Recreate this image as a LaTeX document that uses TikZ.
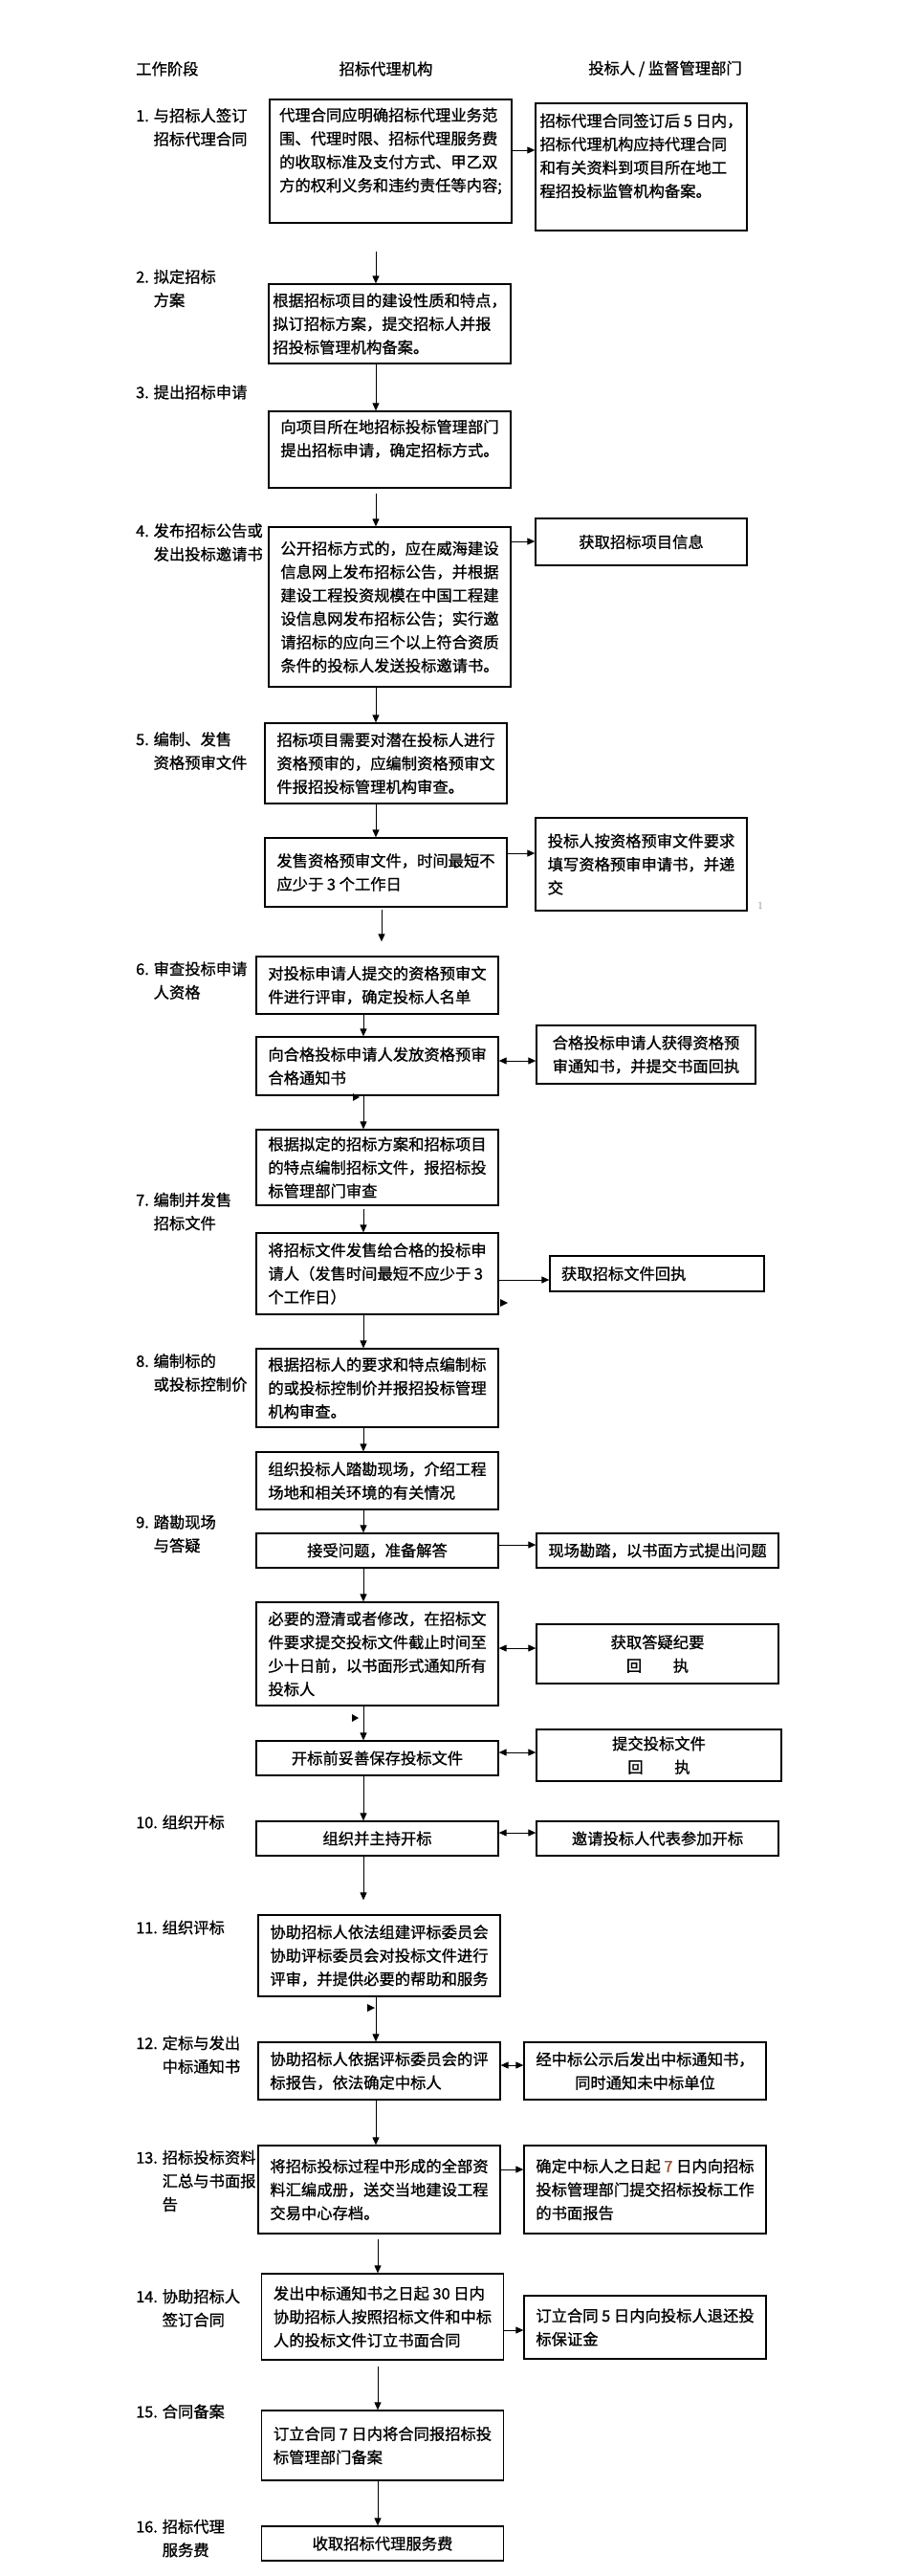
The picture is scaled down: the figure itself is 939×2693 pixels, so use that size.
\documentclass[tikz,border=0pt]{standalone}
\usepackage{fontspec}
\newfontfamily\cjk{Noto Sans CJK SC}[UprightFeatures={FakeBold=1.0}]
\usetikzlibrary{arrows.meta}
\definecolor{seven}{HTML}{9C4A1E}
\newcommand{\bxfont}{\cjk\fontsize{16.3pt}{24.5pt}\selectfont}

\begin{document}
\begin{tikzpicture}[x=1pt, y=-1pt,
  hd/.style={font=\bxfont, inner sep=0pt},
  st/.style={anchor=west, align=left, font=\bxfont, inner sep=0pt},
  ag/.style={rectangle, draw, line width=1.3pt, minimum width=253pt, align=left, font=\bxfont, inner xsep=3pt, inner ysep=4pt},
  pt/.style={rectangle, draw, line width=1.3pt, align=left, font=\bxfont, inner xsep=3pt, inner ysep=4pt},
  fl/.style={-{Triangle[length=8pt,width=7pt]}, line width=0.9pt},
  bi/.style={{Triangle[length=8pt,width=7pt]}-{Triangle[length=8pt,width=7pt]}, line width=0.9pt}
]
  \useasboundingbox (0,0) rectangle (939,2693);

  % column heads
  \node[hd, anchor=west] (h1) at (142,72) {工作阶段};
  \node[hd] (h2) at (403.5,72) {招标代理机构};
  \node[hd] (h3) at (695.5,72) {投标人 / 监督管理部门};

  % stages
  \node[st] (s1) at (142,133) {1. 与招标人签订\\\phantom{1. }招标代理合同};
  \node[st] (s2) at (142,301.5) {2. 拟定招标\\\phantom{2. }方案};
  \node[st] (s3) at (142,410) {3. 提出招标申请};
  \node[st] (s4) at (142,567) {4. 发布招标公告或\\\phantom{4. }发出投标邀请书};
  \node[st] (s5) at (142,785) {5. 编制、发售\\\phantom{5. }资格预审文件};
  \node[st] (s6) at (142,1025) {6. 审查投标申请\\\phantom{6. }人资格};
  \node[st] (s7) at (142,1266.5) {7. 编制并发售\\\phantom{7. }招标文件};
  \node[st] (s8) at (142,1435) {8. 编制标的\\\phantom{8. }或投标控制价};
  \node[st] (s9) at (142,1603.5) {9. 踏勘现场\\\phantom{9. }与答疑};
  \node[st] (s10) at (142,1905) {10. 组织开标};
  \node[st] (s11) at (142,2015) {11. 组织评标};
  \node[st] (s12) at (142,2148) {12. 定标与发出\\\phantom{12. }中标通知书};
  \node[st] (s13) at (142,2280) {13. 招标投标资料\\\phantom{13. }汇总与书面报\\\phantom{13. }告};
  \node[st] (s14) at (142,2413) {14. 协助招标人\\\phantom{14. }签订合同};
  \node[st] (s15) at (142,2521) {15. 合同备案};
  \node[st] (s16) at (142,2653.5) {16. 招标代理\\\phantom{16. }服务费};

  % agency column
  \node[ag, minimum height=129pt] (ag1) at (408.5,168.5) {代理合同应明确招标代理业务范\\围、代理时限、招标代理服务费\\的收取标准及支付方式、甲乙双\\方的权利义务和违约责任等内容;\\~};
  \node[ag, minimum height=83pt] (ag2) at (407.5,338.5) {根据招标项目的建设性质和特点，\\拟订招标方案，提交招标人并报\\招投标管理机构备案。};
  \node[ag, minimum height=80pt] (ag3) at (407.5,470) {向项目所在地招标投标管理部门\\提出招标申请，确定招标方式。\\~};
  \node[ag, minimum height=167pt] (ag4) at (407.5,634.5) {公开招标方式的，应在威海建设\\信息网上发布招标公告，并根据\\建设工程投资规模在中国工程建\\设信息网发布招标公告；实行邀\\请招标的应向三个以上符合资质\\条件的投标人发送投标邀请书。};
  \node[ag, minimum height=84pt] (ag5a) at (403.5,798) {招标项目需要对潜在投标人进行\\资格预审的，应编制资格预审文\\件报招投标管理机构审查。};
  \node[ag, minimum height=72pt] (ag5b) at (403.5,912) {发售资格预审文件，时间最短不\\应少于 3 个工作日};
  \node[ag, minimum height=60pt] (ag6a) at (394.5,1030) {对投标申请人提交的资格预审文\\件进行评审，确定投标人名单};
  \node[ag, minimum height=61pt] (ag6b) at (394.5,1114.5) {向合格投标申请人发放资格预审\\合格通知书};
  \node[ag, minimum height=79pt] (ag7a) at (394.5,1220.5) {根据拟定的招标方案和招标项目\\的特点编制招标文件，报招标投\\标管理部门审查};
  \node[ag, minimum height=85pt] (ag7b) at (394.5,1331.5) {将招标文件发售给合格的投标申\\请人（发售时间最短不应少于 3\\个工作日）};
  \node[ag, minimum height=82pt] (ag8) at (394.5,1451) {根据招标人的要求和特点编制标\\的或投标控制价并报招投标管理\\机构审查。};
  \node[ag, minimum height=60pt] (ag9a) at (394.5,1548) {组织投标人踏勘现场，介绍工程\\场地和相关环境的有关情况};
  \node[ag, minimum height=36pt, align=center] (ag9b) at (394.5,1621) {接受问题，准备解答};
  \node[ag, minimum height=108pt] (ag9c) at (394.5,1729) {必要的澄清或者修改，在招标文\\件要求提交投标文件截止时间至\\少十日前，以书面形式通知所有\\投标人};
  \node[ag, minimum height=36pt, align=center] (ag9d) at (394.5,1838) {开标前妥善保存投标文件};
  \node[ag, minimum height=36pt, align=center] (ag10) at (394.5,1922) {组织并主持开标};
  \node[ag, minimum height=85pt] (ag11) at (396.5,2044.5) {协助招标人依法组建评标委员会\\协助评标委员会对投标文件进行\\评审，并提供必要的帮助和服务};
  \node[ag, minimum height=60pt] (ag12) at (396.5,2165) {协助招标人依据评标委员会的评\\标报告，依法确定中标人};
  \node[ag, minimum height=92pt] (ag13) at (396.5,2289) {将招标投标过程中形成的全部资\\料汇编成册，送交当地建设工程\\交易中心存档。};
  \node[ag, minimum height=90pt] (ag14) at (400,2422) {发出中标通知书之日起 30 日内\\协助招标人按照招标文件和中标\\人的投标文件订立书面合同};
  \node[ag, minimum height=73pt] (ag15) at (400,2556.5) {订立合同 7 日内将合同报招标投\\标管理部门备案};
  \node[ag, minimum height=36pt, align=center] (ag16) at (400,2659) {收取招标代理服务费};

  % bidder / supervisor column
  \node[pt, minimum width=221pt, minimum height=133pt] (pt1) at (670.5,174.5) {招标代理合同签订后 5 日内，\\招标代理机构应持代理合同\\和有关资料到项目所在地工\\程招投标监管机构备案。\\~};
  \node[pt, minimum width=221pt, minimum height=49pt, align=center] (pt4) at (670.5,566.5) {获取招标项目信息};
  \node[pt, minimum width=221pt, minimum height=97pt] (pt5) at (670.5,903.5) {投标人按资格预审文件要求\\填写资格预审申请书，并递\\交};
  \node[pt, minimum width=229pt, minimum height=61pt] (pt6) at (675.5,1102.5) {合格投标申请人获得资格预\\审通知书，并提交书面回执};
  \node[pt, text width=200pt, inner xsep=12pt, minimum height=37pt] (pt7) at (687,1331.5) {获取招标文件回执};
  \node[pt, minimum width=253pt, minimum height=36pt, align=center] (pt9b) at (687.5,1621) {现场勘踏，以书面方式提出问题};
  \node[pt, minimum width=253pt, minimum height=62pt, align=center] (pt9c) at (687.5,1729) {获取答疑纪要\\回　　执};
  \node[pt, minimum width=256pt, minimum height=54pt, align=center] (pt9d) at (689,1835) {提交投标文件\\回　　执};
  \node[pt, minimum width=253pt, minimum height=36pt, align=center] (pt10) at (687.5,1922) {邀请投标人代表参加开标};
  \node[pt, minimum width=253pt, minimum height=60pt, align=center] (pt12) at (674.5,2165) {经中标公示后发出中标通知书，\\同时通知未中标单位};
  \node[pt, minimum width=253pt, minimum height=92pt] (pt13) at (674.5,2289) {确定中标人之日起 {\color{seven}7} 日内向招标\\投标管理部门提交招标投标工作\\的书面报告};
  \node[pt, minimum width=253pt, minimum height=66pt] (pt14) at (674.5,2433) {订立合同 5 日内向投标人退还投\\标保证金};

  % flow columns
  \coordinate (ca) at (393,0);
  \coordinate (cb) at (399,0);
  \coordinate (cc) at (380,0);
  \coordinate (cd) at (395,0);

  \draw[fl, shorten <=29pt] (ag1.south -| ca) -- (ag2.north -| ca);
  \draw[fl] (ag2.south -| ca) -- (ag3.north -| ca);
  \draw[fl, shorten <=5pt] (ag3.south -| ca) -- (ag4.north -| ca);
  \draw[fl] (ag4.south -| ca) -- (ag5a.north -| ca);
  \draw[fl] (ag5a.south -| ca) -- (ag5b.north -| ca);
  \draw[fl, shorten <=2pt, shorten >=15pt] (ag5b.south -| cb) -- (ag6a.north -| cb);
  \draw[fl] (ag6a.south -| cc) -- (ag6b.north -| cc);
  \draw[fl] (ag6b.south -| cc) -- (ag7a.north -| cc);
  \draw[fl, shorten <=3pt] (ag7a.south -| cc) -- (ag7b.north -| cc);
  \draw[fl] (ag7b.south -| cc) -- (ag8.north -| cc);
  \draw[fl] (ag8.south -| cc) -- (ag9a.north -| cc);
  \draw[fl] (ag9a.south -| cc) -- (ag9b.north -| cc);
  \draw[fl] (ag9b.south -| cc) -- (ag9c.north -| cc);
  \draw[fl] (ag9c.south -| cc) -- (ag9d.north -| cc);
  \draw[fl] (ag9d.south -| cc) -- (ag10.north -| cc);
  \draw[fl, shorten >=15pt] (ag10.south -| cc) -- (ag11.north -| cc);
  \draw[fl] (ag11.south -| ca) -- (ag12.north -| ca);
  \draw[fl] (ag12.south -| ca) -- (ag13.north -| ca);
  \draw[fl, shorten <=5pt] (ag13.south -| cd) -- (ag14.north -| cd);
  \draw[fl, shorten <=6pt] (ag14.south -| cd) -- (ag15.north -| cd);
  \draw[fl] (ag15.south -| cd) -- (ag16.north -| cd);

  % side links
  \draw[fl] (ag1.east |- 0,157) -- (pt1.west |- 0,157);
  \draw[fl] (ag4.east |- 0,566) -- (pt4.west |- 0,566);
  \draw[fl] (ag5b.east |- 0,892) -- (pt5.west |- 0,892);
  \draw[bi] (ag6b.east |- 0,1109) -- (pt6.west |- 0,1109);
  \draw[fl] (ag7b.east |- 0,1338) -- (pt7.west |- 0,1338);
  \draw[fl] (ag9b.east |- 0,1615) -- (pt9b.west |- 0,1615);
  \draw[bi] (ag9c.east |- 0,1723) -- (pt9c.west |- 0,1723);
  \draw[bi] (ag9d.east |- 0,1832) -- (pt9d.west |- 0,1832);
  \draw[bi] (ag10.east |- 0,1916) -- (pt10.west |- 0,1916);
  \draw[bi] (ag12.east |- 0,2159) -- (pt12.west |- 0,2159);
  \draw[fl] (ag13.east |- 0,2268) -- (pt13.west |- 0,2268);
  \draw[fl] (ag14.east |- 0,2436) -- (pt14.west |- 0,2436);

  % stray marks
  \fill (369,1143) -- (376,1147) -- (369,1151) -- cycle;
  \fill (523,1358) -- (531,1362) -- (523,1366) -- cycle;
  \fill (368,1792) -- (375,1796) -- (368,1800) -- cycle;
  \fill (384,2095) -- (392,2099) -- (384,2103) -- cycle;
  \node[text=gray, font=\fontsize{11pt}{13pt}\selectfont, inner sep=0pt] (pg) at (795,947) {1};
\end{tikzpicture}
\end{document}
